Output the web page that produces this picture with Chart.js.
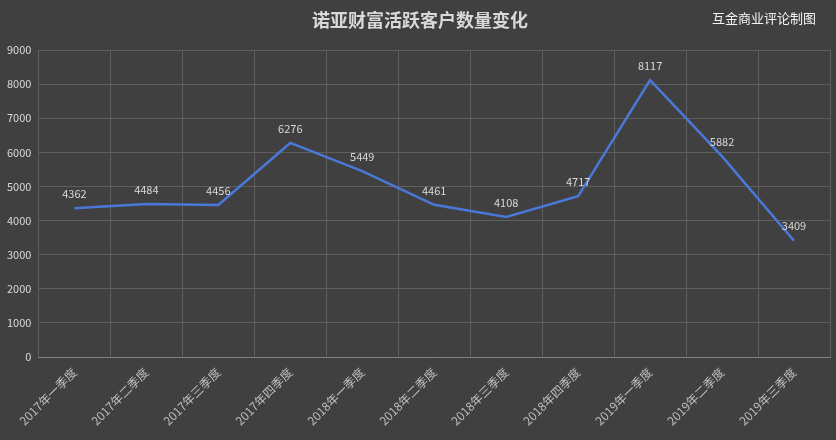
<!DOCTYPE html>
<html><head><meta charset="utf-8">
<script src="https://cdn.jsdelivr.net/npm/chart.js@4"></script>
<style>html,body{margin:0;padding:0;background:#404040;}#w{width:836px;height:440px;position:relative;}</style>
</head><body><div id="w"><canvas id="c"></canvas></div>
<script>
const categories=["2017年一季度","2017年二季度","2017年三季度","2017年四季度","2018年一季度","2018年二季度","2018年三季度","2018年四季度","2019年一季度","2019年二季度","2019年三季度"];
const customers=[4362,4484,4456,6276,5449,4461,4108,4717,8117,5882,3409];
const yTicks=[0,1000,2000,3000,4000,5000,6000,7000,8000,9000];
const F='"Noto Sans CJK SC", sans-serif';
const labelPlugin={id:'lbl',afterDatasetsDraw(ch){const c=ch.ctx;const m=ch.getDatasetMeta(0);c.save();c.font='11px '+F;c.fillStyle='#d9d9d9';c.textAlign='center';c.textBaseline='bottom';
m.data.forEach((p,i)=>c.fillText(customers[i],p.x,p.y-9));
c.font='bold 18px '+F;c.fillStyle='#d9d9d9';c.textBaseline='middle';c.fillText('诺亚财富活跃客户数量变化',420,20);
c.font='13px '+F;c.fillStyle='#f2f2f2';c.fillText('互金商业评论制图',764,18);c.restore();}};
new Chart(document.getElementById('c'),{type:'line',
data:{labels:categories,datasets:[{data:customers,borderColor:'#4a78d8',borderWidth:2.5,pointRadius:0,tension:0.0,fill:false}]},
options:{responsive:true,maintainAspectRatio:false,animation:false,
layout:{padding:{top:50,right:6,left:0,bottom:4}},
plugins:{legend:{display:false},tooltip:{enabled:false}},
scales:{
x:{offset:true,grid:{color:'#5e5e5e',offset:true,drawTicks:false},border:{color:'#808080'},
ticks:{color:'#bfbfbf',font:{family:F,size:12},maxRotation:45,minRotation:45,padding:8}},
y:{min:0,max:9000,afterBuildTicks:a=>{a.ticks=yTicks.map(v=>({value:v}))},grid:{color:'#5e5e5e',drawTicks:false},border:{display:false},
ticks:{color:'#d9d9d9',font:{family:F,size:11},padding:7,callback:v=>String(v)}}}},
plugins:[labelPlugin]});
</script></body></html>
